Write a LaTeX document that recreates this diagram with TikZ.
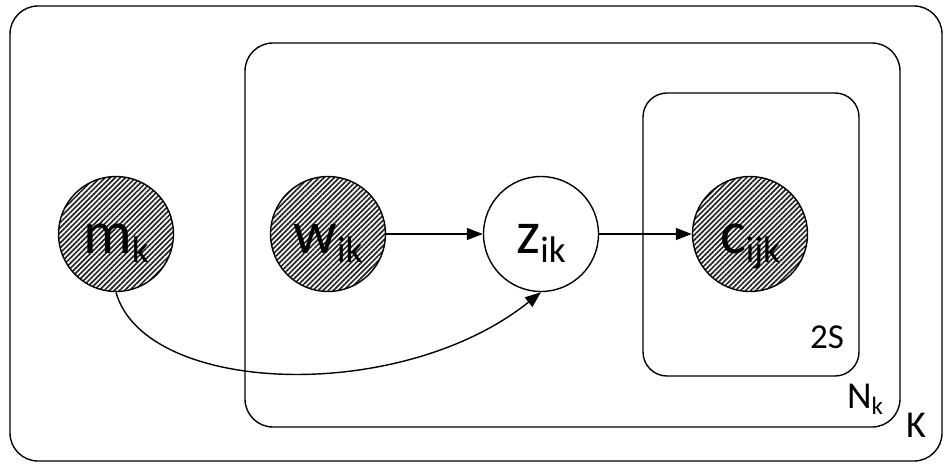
\documentclass[tikz,border=0pt]{standalone}
\usepackage{fontspec}
\setmainfont{Carlito}
\usetikzlibrary{arrows.meta,patterns.meta}
\tikzset{
  plate/.style={draw, line width=1.4pt, rounded corners=28pt},
  var/.style={circle, draw, line width=1.4pt, minimum size=115pt, inner sep=0pt},
  obs/.style={var, fill=white, pattern={Lines[angle=45,distance=3.6pt,line width=1.7pt]}, pattern color=black!85},
  edge/.style={line width=1.4pt, -{Triangle[length=16pt,width=12pt]}},
  lbl/.style={anchor=base, inner sep=0pt, font=\fontsize{61}{61}\selectfont},
  platelabel/.style={anchor=base, inner sep=0pt, font=\fontsize{38}{38}\selectfont}
}
% lowered subscript in the plate-diagram style
\newcommand{\sbk}[1]{\raisebox{-9pt}{\fontsize{37}{37}\selectfont #1}}
\newcommand{\sbs}[1]{\raisebox{-6pt}{\fontsize{25}{25}\selectfont #1}}
\begin{document}
\begin{tikzpicture}[x=1pt,y=-1pt]
  \useasboundingbox (0,0) rectangle (947,466);
  % plates
  \draw[plate] (10,6) rectangle (942,461);
  \draw[plate] (245,43) rectangle (900,427);
  \draw[plate, rounded corners=24pt] (643,93) rectangle (859,376);
  % variables
  \node[obs] (mk) at (116,234) {};
  \node[lbl] (tmk) at (116,253) {m\sbk{k}};
  \node[obs] (wik) at (328,234) {};
  \node[lbl] (twik) at (328,253) {w\sbk{ik}};
  \node[var, fill=white] (zik) at (541,234) {};
  \node[lbl] (tzik) at (541,253) {z\sbk{ik}};
  \node[obs] (cijk) at (750,234) {};
  \node[lbl] (tcijk) at (750,253) {c\sbk{ijk}};
  % plate labels
  \node[platelabel, font=\fontsize{35}{35}\selectfont] (lS) at (827,348) {2S};
  \node[platelabel] (lN) at (865,408) {N\sbs{k}};
  \node[platelabel] (lK) at (916,437) {K};
  % edges
  \draw[edge] (wik.east) -- (zik.west);
  \draw[edge] (zik.east) -- (cijk.west);
  \draw[edge] (mk.south) .. controls (145,395) and (400,405) .. (zik.south);
\end{tikzpicture}
\end{document}
